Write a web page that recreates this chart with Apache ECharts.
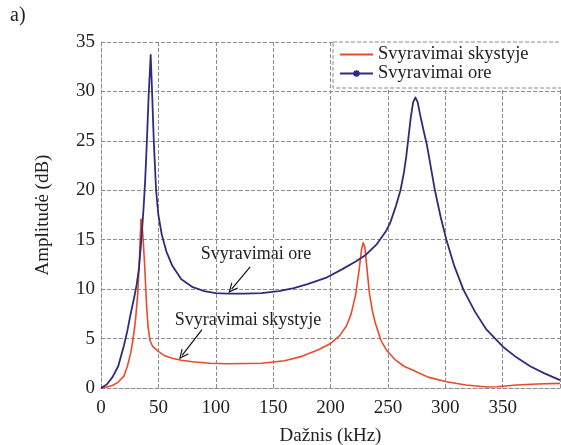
<!DOCTYPE html>
<html lang="lt">
<head>
    <meta charset="UTF-8"/>
    <script src="https://cdn.jsdelivr.net/npm/echarts@6/dist/echarts.min.js"></script>
    <style>
        html, body { margin: 0; padding: 0; background: #fff; }
        #main { width: 561px; height: 445px; }
    </style>
</head>
<body>
<div id="main"></div>
<script type="text/javascript">
    // dažnis (kHz) ir amplitudė (dB), nuskaityta iš paveikslo
    var freqOre = [0, 5, 10, 15, 20, 23, 26, 29, 31, 33, 35, 37, 38.5, 40, 41.5, 43.3, 44.5, 46, 48, 50, 53, 57, 62, 70, 80, 90, 100, 110, 125, 140, 155, 168, 180, 197, 210, 222, 230, 240, 248, 252, 257, 261, 264, 266, 268, 270, 272, 274, 276, 278, 281, 284, 287.5, 291, 296, 301, 308, 316, 326, 336, 350, 362, 374, 386, 400];
    var ampOre = [0, 0.35, 1.1, 2.2, 4.3, 5.8, 7.6, 9.2, 10.4, 12.0, 14.8, 18, 21, 25, 29.5, 33.7, 30, 25, 20, 17.5, 15.5, 13.8, 12.4, 11.0, 10.2, 9.8, 9.6, 9.55, 9.55, 9.6, 9.8, 10.1, 10.5, 11.2, 12.0, 12.8, 13.4, 14.5, 15.8, 16.7, 18.4, 20, 21.8, 23.4, 25.4, 27.4, 28.9, 29.4, 28.9, 27.7, 26.1, 24.6, 22.3, 20, 17.3, 15, 12.3, 9.9, 7.7, 5.9, 4.2, 3.1, 2.2, 1.5, 0.8];

    var freqSkyst = [0, 5, 10, 15, 20, 23, 26, 28, 30, 32, 33.5, 34.8, 35.8, 37, 38, 39.8, 41, 42.7, 45, 50, 55, 62, 70, 80, 95, 110, 140, 160, 175, 190, 200, 208, 214, 218, 222, 225, 227, 228.5, 230, 232, 234, 236.5, 239, 244, 249, 256, 264, 272, 285, 301, 318, 336, 345, 362, 380, 400];
    var ampSkyst = [0, 0.1, 0.25, 0.6, 1.2, 2.2, 3.6, 5.0, 6.8, 9.5, 13, 17.1, 16.5, 14.5, 12.5, 8.2, 6.2, 4.8, 4.2, 3.7, 3.3, 3.0, 2.8, 2.65, 2.5, 2.45, 2.5, 2.75, 3.2, 3.9, 4.5, 5.3, 6.3, 7.5, 9.5, 12, 14, 14.7, 14.2, 11.8, 9.5, 7.8, 6.6, 4.8, 3.8, 2.9, 2.2, 1.8, 1.1, 0.64, 0.3, 0.1, 0.12, 0.3, 0.4, 0.47];

    var xTicks = [0, 50, 100, 150, 200, 250, 300, 350];
    var yTicks = [0, 5, 10, 15, 20, 25, 30, 35];

    // rodyklės: [pradžia, galas] duomenų koordinatėmis
    var arrowOre = [[130, 12.25], [113.8, 10.0]];
    var arrowSkyst = [[88, 5.9], [70.7, 3.3]];

    var seriesNames = ['Svyravimai skystyje', 'Svyravimai ore'];
    var serifFont = '"Liberation Serif", "DejaVu Serif", serif';
    var gridColor = '#8c8c8c';
    var openArrow = 'path://M5,0 L10,10 L8.6,10 L5,2.8 L1.4,10 L0,10 Z';

    function pairs(xs, ys) {
        var out = [];
        for (var i = 0; i < xs.length; i++) out.push([xs[i], ys[i]]);
        return out;
    }

    var myChart = echarts.init(document.getElementById('main'));

    var options = {
        animation: false,
        textStyle: { fontFamily: serifFont, color: '#222' },
        grid: { left: 101, right: 1, top: 42, bottom: 57, outerBoundsMode: 'none', containLabel: false },
        legend: {
            data: [
                { name: seriesNames[0], icon: 'path://M0,0 L30,0 L30,1.6 L0,1.6 Z' },
                { name: seriesNames[1] }
            ],
            orient: 'vertical',
            left: 333,
            top: 42,
            width: 226,
            padding: [3, 40, 5, 6],
            itemGap: 0,
            itemWidth: 33,
            itemHeight: 8,
            borderColor: gridColor,
            borderWidth: 1,
            borderType: 'dashed',
            backgroundColor: '#fff',
            textStyle: { fontFamily: serifFont, fontSize: 18.5, color: '#222', lineHeight: 16 }
        },
        xAxis: {
            type: 'value',
            min: 0,
            max: 400,
            interval: 50,
            name: 'Dažnis (kHz)',
            nameLocation: 'middle',
            nameGap: 39,
            nameTextStyle: { fontFamily: serifFont, fontSize: 19, color: '#222' },
            axisLine: { lineStyle: { color: gridColor, type: [4, 2] } },
            axisTick: { show: false },
            axisLabel: {
                fontFamily: serifFont, fontSize: 19, color: '#222', margin: 11,
                formatter: function (v) { return xTicks.indexOf(v) >= 0 ? String(v) : ''; }
            },
            splitLine: { show: true, lineStyle: { color: gridColor, type: [4, 2], width: 1 } }
        },
        yAxis: {
            type: 'value',
            min: 0,
            max: 35,
            interval: 5,
            name: 'Amplitudė (dB)',
            nameLocation: 'middle',
            nameGap: 48,
            nameTextStyle: { fontFamily: serifFont, fontSize: 19, color: '#222' },
            axisLine: { show: true, lineStyle: { color: gridColor, type: [4, 2] } },
            axisTick: { show: false },
            axisLabel: {
                fontFamily: serifFont, fontSize: 19, color: '#222', margin: 6,
                formatter: function (v) { return yTicks.indexOf(v) >= 0 ? String(v) : ''; }
            },
            splitLine: { show: true, lineStyle: { color: gridColor, type: [4, 2], width: 1 } }
        },
        graphic: [
            { type: 'text', left: 10, top: 6, style: { text: 'a)', font: '20px ' + serifFont, fill: '#222' } },
            { type: 'text', x: 256, y: 254, style: { text: 'Svyravimai ore', font: '18px ' + serifFont, fill: '#222', align: 'center', verticalAlign: 'middle' } },
            { type: 'text', x: 248, y: 320, style: { text: 'Svyravimai skystyje', font: '18px ' + serifFont, fill: '#222', align: 'center', verticalAlign: 'middle' } }
        ],
        series: [
            {
                name: seriesNames[0],
                type: 'line',
                data: pairs(freqSkyst, ampSkyst),
                showSymbol: false,
                symbol: 'none',
                color: '#ea4a2c',
                lineStyle: { width: 1.6, color: '#ea4a2c', join: 'round' },
                markLine: {
                    silent: true,
                    symbol: ['none', openArrow],
                    symbolSize: [9, 10],
                    label: { show: false },
                    itemStyle: { color: '#111' },
                    lineStyle: { color: '#111', type: 'solid', width: 1.2 },
                    data: [
                        [{ coord: arrowSkyst[0] }, { coord: arrowSkyst[1] }],
                        [{ coord: arrowOre[0] }, { coord: arrowOre[1] }]
                    ]
                }
            },
            {
                name: seriesNames[1],
                type: 'line',
                data: pairs(freqOre, ampOre),
                showSymbol: false,
                symbol: 'circle',
                symbolSize: 3,
                color: '#2f2c7c',
                lineStyle: { width: 1.8, color: '#2f2c7c', join: 'round' }
            }
        ]
    };

    myChart.setOption(options);
</script>
</body>
</html>
